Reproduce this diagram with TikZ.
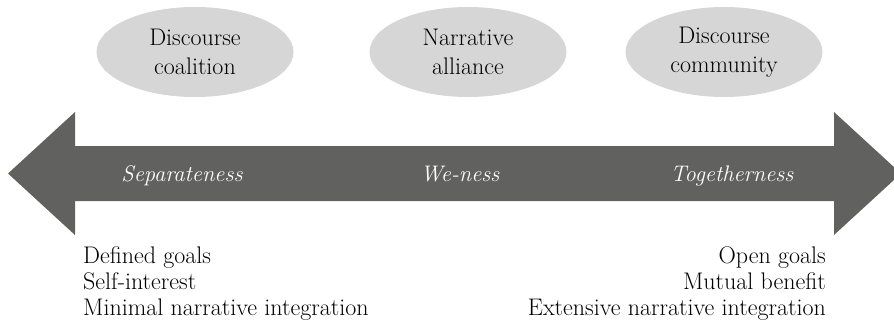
\documentclass[tikz,border=0pt]{standalone}
\usepackage{fontspec}
\usepackage{tikz}
\usetikzlibrary{shapes.geometric}

\definecolor{bloblight}{RGB}{214,214,214}
\definecolor{arrowdark}{RGB}{97,97,96}

\begin{document}
\begin{tikzpicture}[x=1pt,y=-1pt,
  blob/.style={ellipse,fill=bloblight,minimum width=197pt,minimum height=90pt,inner sep=0pt,
    align=center,font=\fontsize{24}{29}\selectfont},
  axis text/.style={anchor=base,text=white,inner sep=0pt,font=\fontsize{22.5}{26}\selectfont\itshape},
  list text/.style={inner sep=0pt,font=\fontsize{24}{26.2}\selectfont}]

  \useasboundingbox (0,0) rectangle (894,330);

  \node[blob] (coalition) at (195,52) {Discourse\\coalition};
  \node[blob] (alliance)  at (468,52) {Narrative\\alliance};
  \node[blob] (community) at (724,52) {Discourse\\community};

  \fill[arrowdark] (8,173.5) -- (75,112) -- (75,146) -- (834,146) -- (834,112) -- (901,173.5)
    -- (834,235) -- (834,201) -- (75,201) -- (75,235) -- cycle;

  \node[axis text] (sep)  at (182,181) {Separateness};
  \node[axis text] (we)   at (460,181) {We-ness};
  \node[axis text] (tog)  at (732,181) {Togetherness};

  \node[list text,anchor=north west,align=left] (left list) at (83,246.5)
    {Defined goals\\Self-interest\\Minimal narrative integration};
  \node[list text,anchor=north east,align=right] (right list) at (826,246.5)
    {Open goals\\Mutual benefit\\Extensive narrative integration};

\end{tikzpicture}
\end{document}
